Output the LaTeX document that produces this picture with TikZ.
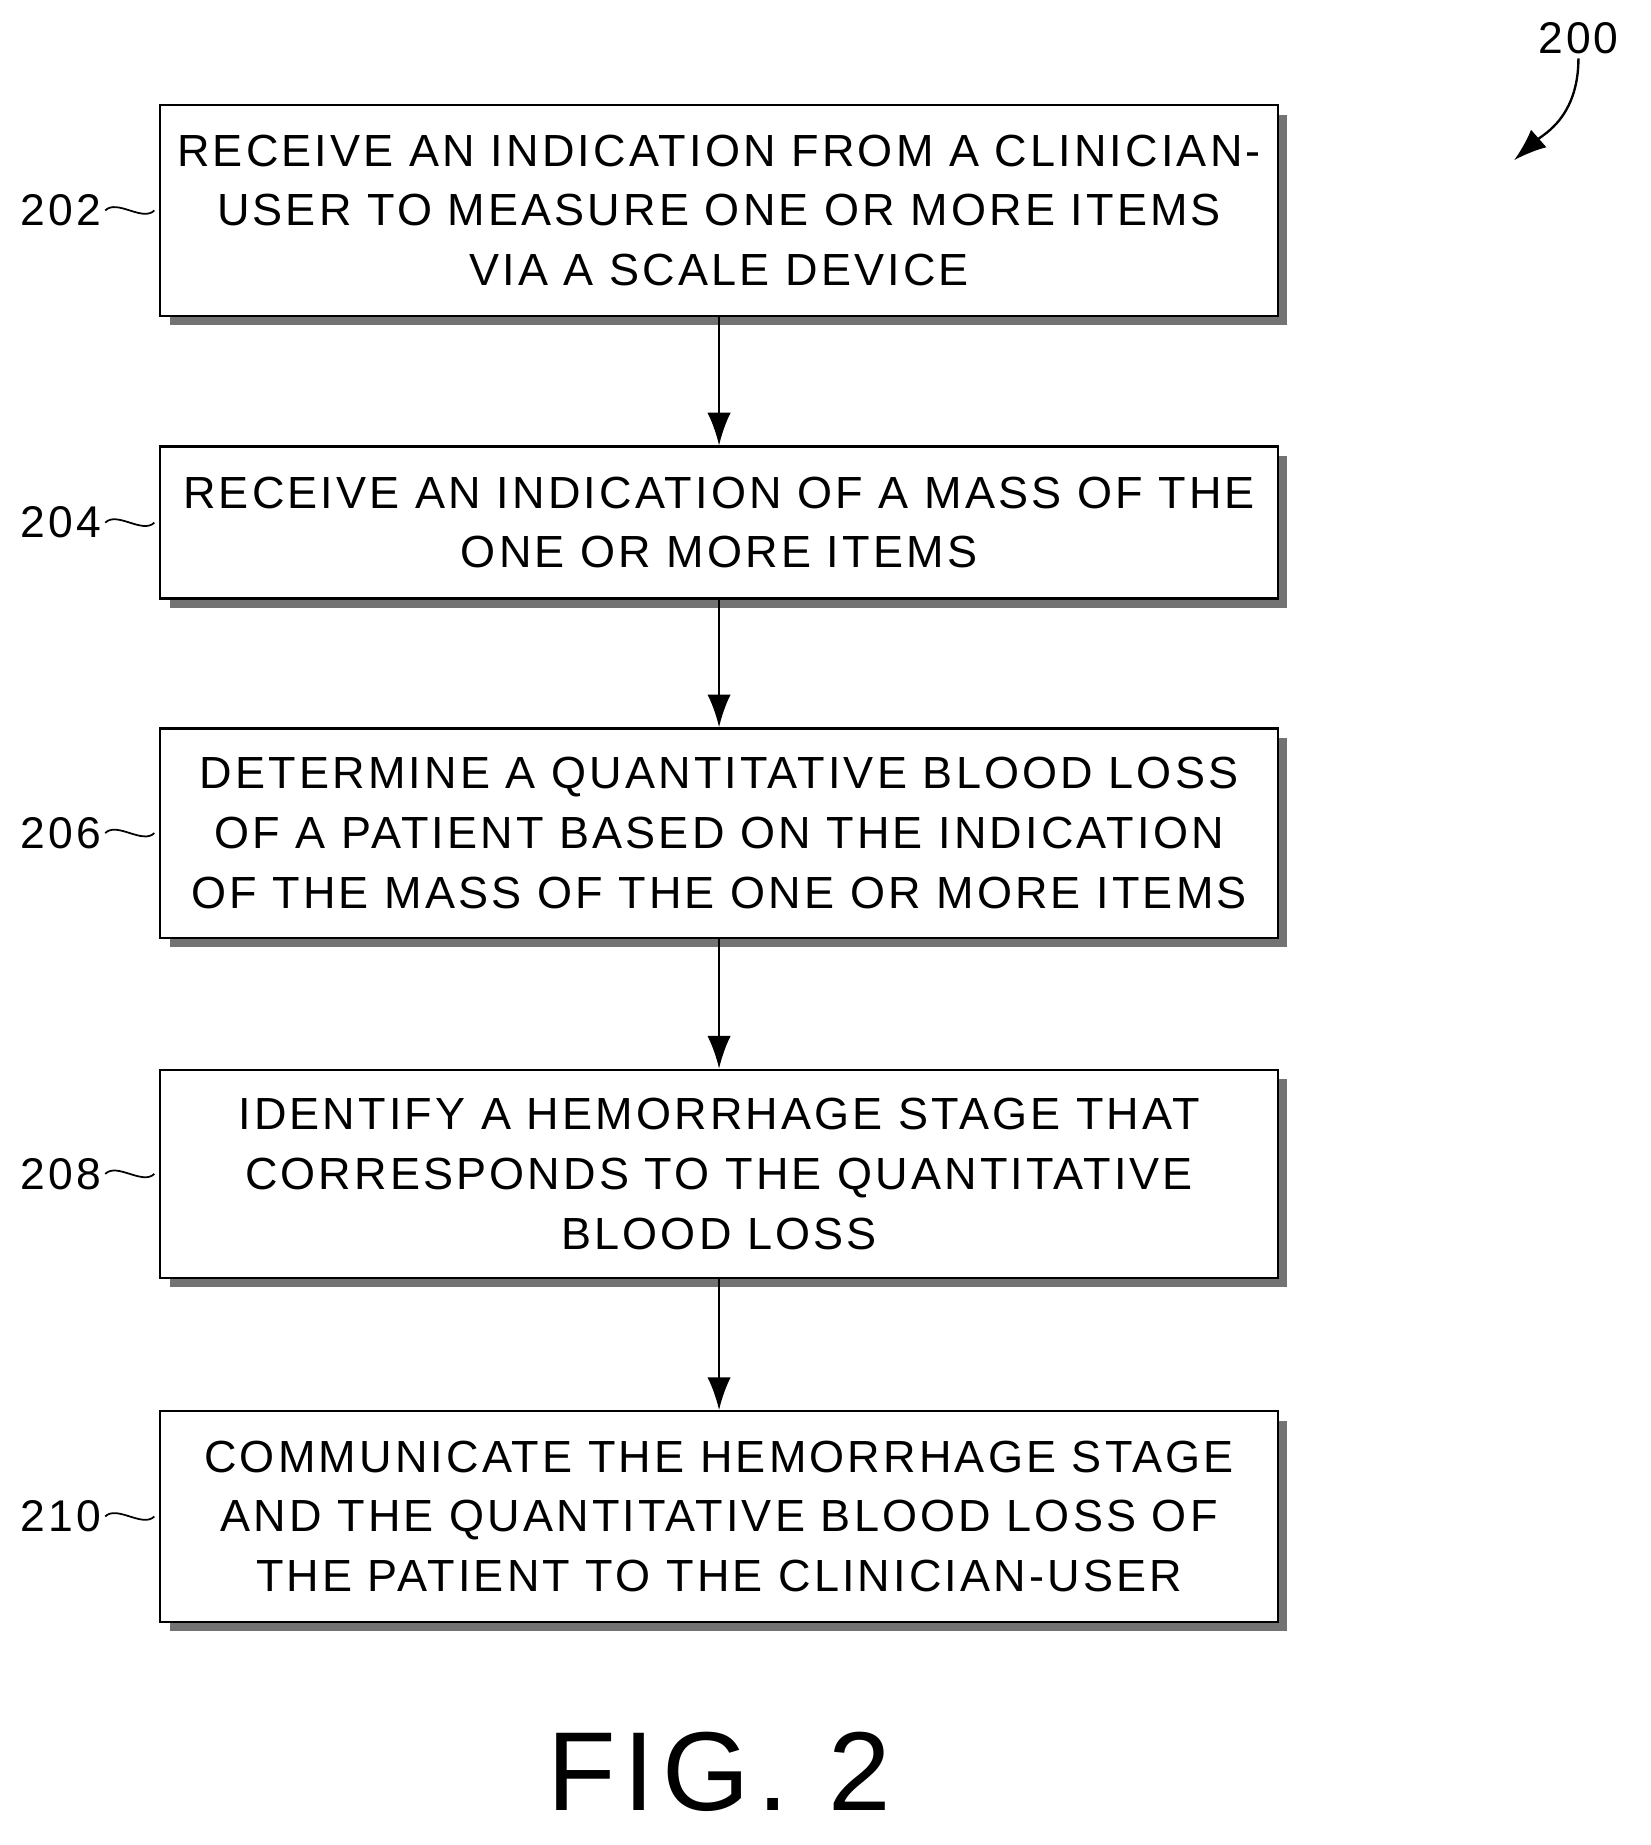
\documentclass[tikz,border=0pt]{standalone}
\usepackage{fontspec}
\setmainfont{Liberation Sans}[LetterSpace=7]
\usetikzlibrary{arrows.meta}
\begin{document}
\begin{tikzpicture}[x=1pt,y=-1pt,
  box/.style={draw=black,line width=2pt,fill=white,minimum width=956pt,inner sep=0pt,align=center,font=\fontsize{38.5}{51}\selectfont},
  shadow/.style={fill=black!55},
  lbl/.style={font=\fontsize{38}{40}\selectfont,anchor=east},
  arr/.style={line width=2pt,-{Latex[length=28pt,width=20pt]}}]
\useasboundingbox (0,0) rectangle (1412,1578);
\foreach \n/\ya/\yb in {1/90/270,2/382/512,3/623/802,4/915/1093,5/1207/1387}{
  \fill[shadow] (145,\ya+8) rectangle (1101,\yb+8);
}
\node[box,minimum height=180pt] (b1) at (615,180) {RECEIVE AN INDICATION FROM A CLINICIAN-\\USER TO MEASURE ONE OR MORE ITEMS\\VIA A SCALE DEVICE};
\node[box,minimum height=130pt] (b2) at (615,447) {RECEIVE AN INDICATION OF A MASS OF THE\\ONE OR MORE ITEMS};
\node[box,minimum height=179pt] (b3) at (615,712.5) {DETERMINE A QUANTITATIVE BLOOD LOSS\\OF A PATIENT BASED ON THE INDICATION\\OF THE MASS OF THE ONE OR MORE ITEMS};
\node[box,minimum height=178pt] (b4) at (615,1004) {IDENTIFY A HEMORRHAGE STAGE THAT\\CORRESPONDS TO THE QUANTITATIVE\\BLOOD LOSS};
\node[box,minimum height=180pt] (b5) at (615,1297) {COMMUNICATE THE HEMORRHAGE STAGE\\AND THE QUANTITATIVE BLOOD LOSS OF\\THE PATIENT TO THE CLINICIAN-USER};
\draw[arr] (b1) -- (b2);
\draw[arr] (b2) -- (b3);
\draw[arr] (b3) -- (b4);
\draw[arr] (b4) -- (b5);
\foreach \b/\t in {b1/202,b2/204,b3/206,b4/208,b5/210}{
  \coordinate (s\b) at ([xshift=-4pt]\b.west);
  \node[lbl] (l\b) at ([xshift=-46pt]\b.west) {\t};
  \draw[line width=1.5pt] (l\b.east) .. controls +(10,-10) and +(-10,10) .. (s\b);
}
\node[font=\fontsize{38}{40}\selectfont] (n200) at (1350,33) {200};
\coordinate (a200) at (1295,137);
\draw[line width=2pt,-{Latex[length=28pt,width=20pt]}] (n200.south) .. controls (1350,100) and (1320,115) .. (a200);
\node[font=\fontsize{96}{100}\selectfont] (fig) at (615,1515) {FIG. 2};
\end{tikzpicture}
\end{document}
